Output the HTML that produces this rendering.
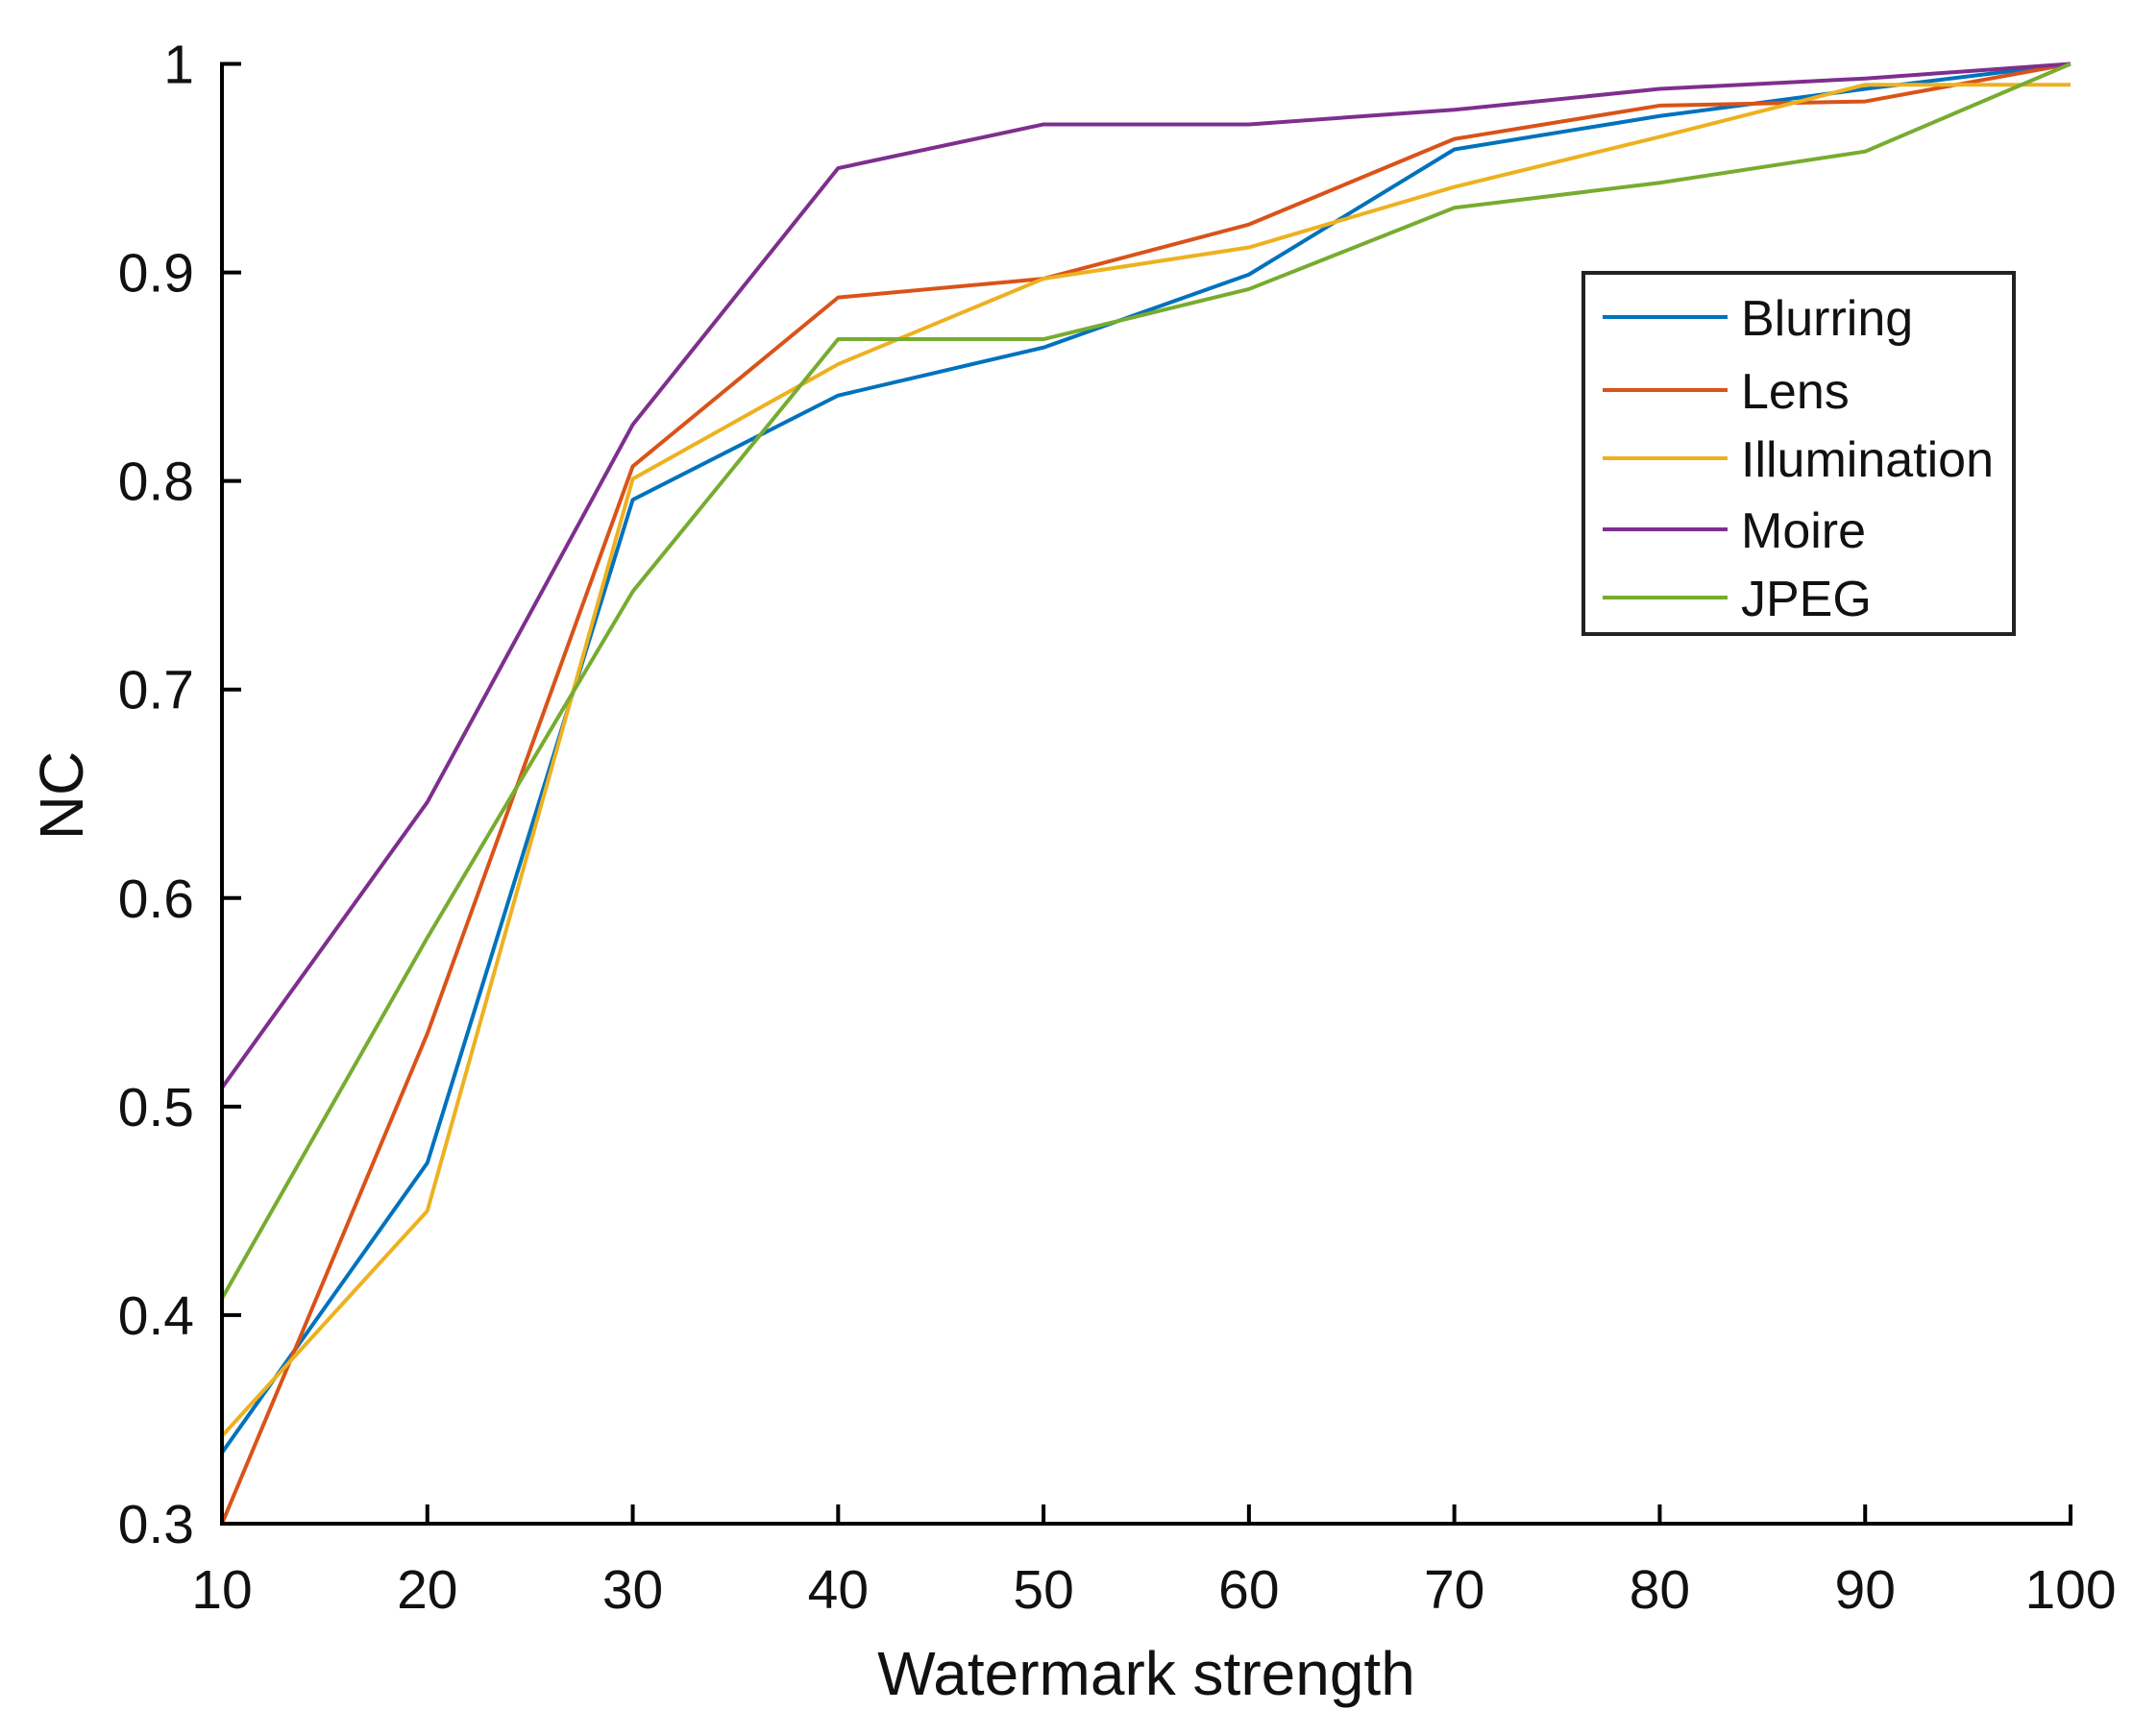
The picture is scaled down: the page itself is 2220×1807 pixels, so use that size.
<!DOCTYPE html>
<html><head><meta charset="utf-8"><style>
html,body{margin:0;padding:0;background:#fff;}
svg{display:block;font-family:"Liberation Sans",Arial,sans-serif;}
</style></head><body>
<svg id="chart" width="2220" height="1807" viewBox="0 0 2220 1807" xmlns="http://www.w3.org/2000/svg">
<g id="lines"></g>
<g id="axes"></g>
<g id="legend"></g>
</svg>
<script>
const categories = [10,20,30,40,50,60,70,80,90,100];
const blurring = [0.334,0.473,0.791,0.841,0.864,0.899,0.959,0.975,0.988,1.0];
const lens = [0.300,0.535,0.807,0.888,0.897,0.923,0.964,0.980,0.982,1.0];
const illumination = [0.342,0.450,0.801,0.856,0.897,0.912,0.941,0.965,0.990,0.990];
const moire = [0.509,0.646,0.827,0.950,0.971,0.971,0.978,0.988,0.993,1.0];
const jpeg = [0.408,0.581,0.747,0.868,0.868,0.892,0.931,0.943,0.958,1.0];
const seriesNames = ["Blurring","Lens","Illumination","Moire","JPEG"];
const yTicks = [0.3,0.4,0.5,0.6,0.7,0.8,0.9,1];
const yTickLabels = ["0.3","0.4","0.5","0.6","0.7","0.8","0.9","1"];
const xTickLabels = ["10","20","30","40","50","60","70","80","90","100"];

const NS="http://www.w3.org/2000/svg";
const L=231,R=2155,T=66.5,B=1586;
const xMin=10,xMax=100,yMin=0.3,yMax=1;
const xs=v=>L+(v-xMin)/(xMax-xMin)*(R-L);
const ys=v=>B-(v-yMin)/(yMax-yMin)*(B-T);
const colors=["#0072BD","#D95319","#EDB120","#7E2F8E","#77AC30"];
const allSeries=[blurring,lens,illumination,moire,jpeg];
function mk(tag,attrs,parent){const e=document.createElementNS(NS,tag);for(const k in attrs)e.setAttribute(k,attrs[k]);parent.appendChild(e);return e;}

const gl=document.getElementById('lines');
allSeries.forEach((s,i)=>{
  const p=mk('polyline',{points:s.map((v,j)=>xs(categories[j])+','+ys(v)).join(' '),fill:'none',stroke:colors[i],'stroke-width':4,'stroke-linejoin':'round'},gl);
  
  
});

const ga=document.getElementById('axes');
const ya=mk('line',{x1:L,y1:T-2,x2:L,y2:B+2,stroke:'#000','stroke-width':4},ga);


const xa=mk('line',{x1:L-2,y1:B,x2:R+2,y2:B,stroke:'#000','stroke-width':4},ga);


yTicks.forEach((v,i)=>{
  const t=mk('line',{x1:L,y1:ys(v),x2:L+20,y2:ys(v),stroke:'#000','stroke-width':4},ga);
  
  
  const tx=mk('text',{x:202,y:ys(v)+20,'text-anchor':'end','font-size':57,fill:'#111'},ga);
  tx.textContent=yTickLabels[i];
  
  
});
categories.forEach((c,i)=>{
  const t=mk('line',{x1:xs(c),y1:B,x2:xs(c),y2:B-20,stroke:'#000','stroke-width':4},ga);
  
  
  const tx=mk('text',{x:xs(c),y:1674,'text-anchor':'middle','font-size':57,fill:'#111'},ga);
  tx.textContent=xTickLabels[i];
  
  
});
const xt=mk('text',{x:(L+R)/2,y:1764,'text-anchor':'middle','font-size':64,fill:'#111'},ga);
xt.textContent='Watermark strength';


const yt=mk('text',{x:0,y:0,'text-anchor':'middle','font-size':64,fill:'#111',transform:'translate(86,828) rotate(-90)'},ga);
yt.textContent='NC';



const lg=document.getElementById('legend');
const box=mk('rect',{x:1648,y:284,width:448,height:376,fill:'#fff',stroke:'#222','stroke-width':4},lg);


const ly=[330,406,477,551,622];
seriesNames.forEach((n,i)=>{
  const ln=mk('line',{x1:1668,y1:ly[i],x2:1798,y2:ly[i],stroke:colors[i],'stroke-width':4},lg);
  
  
  const tx=mk('text',{x:1812,y:ly[i]+19,'font-size':52,fill:'#111'},lg);
  tx.textContent=n;
  
  
});
</script>
</body></html>
